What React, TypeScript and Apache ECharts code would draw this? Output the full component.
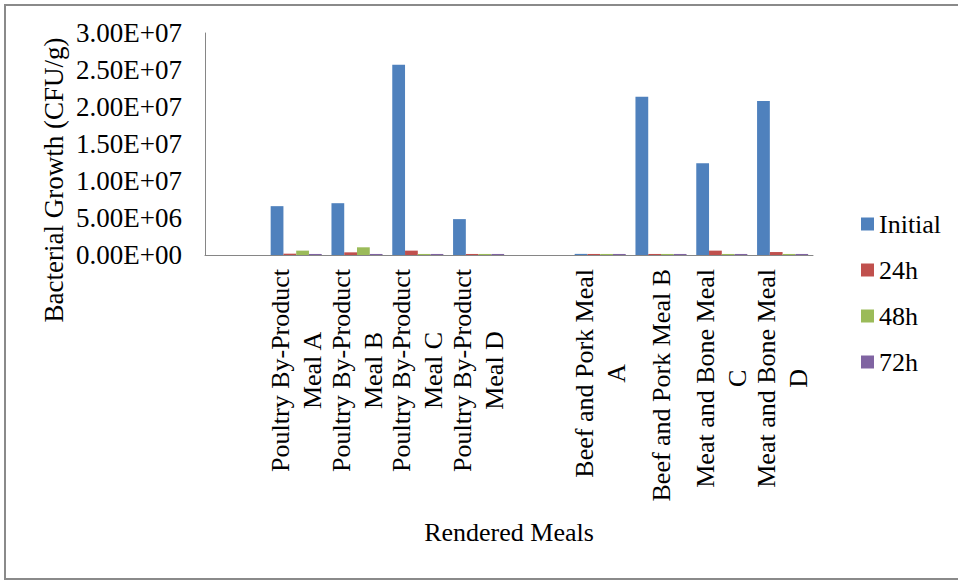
import React, { useEffect, useRef } from "react";
import * as echarts from "echarts";

// Meals on the category axis; blank entries leave the gaps between the two meal groups.
const categories: string[] = [
  "",
  "Poultry By-Product\nMeal A",
  "Poultry By-Product\nMeal B",
  "Poultry By-Product\nMeal C",
  "Poultry By-Product\nMeal D",
  "",
  "Beef and Pork Meal\nA",
  "Beef and Pork Meal B",
  "Meat and Bone Meal\nC",
  "Meat and Bone Meal\nD",
];

const seriesNames: string[] = ["Initial", "24h", "48h", "72h"];

// Bacterial counts (CFU/g) per meal at each sampling time.
const initialValues: (number | null)[] = [null, 6.6e6, 7.0e6, 2.57e7, 4.85e6, null, 1.5e5, 2.14e7, 1.24e7, 2.08e7];
const h24Values: (number | null)[] = [null, 1.8e5, 3.6e5, 5.9e5, 1.4e5, null, 1.4e5, 1.4e5, 5.9e5, 4.0e5];
const h48Values: (number | null)[] = [null, 5.9e5, 1.04e6, 1.4e5, 1.4e5, null, 1.4e5, 1.4e5, 1.4e5, 1.4e5];
const h72Values: (number | null)[] = [null, 1.4e5, 1.4e5, 1.4e5, 1.4e5, null, 1.4e5, 1.4e5, 1.4e5, 1.4e5];

const yMin = 0;
const yMax = 3.0e7;
const yStep = 5.0e6;

const colors = ["#4F81BD", "#C0504D", "#9BBB59", "#8064A2"];
const FONT = "Liberation Serif";

// Excel-style scientific notation: 2.50E+07
function sci(v: number): string {
  const [mant, exp] = v.toExponential(2).split("e");
  const sign = exp[0] === "-" ? "-" : "+";
  const digits = exp.replace(/^[+-]/, "").padStart(2, "0");
  return `${mant}E${sign}${digits}`;
}

export default function App() {
  const ref = useRef<HTMLDivElement>(null);

  useEffect(() => {
    if (!ref.current) return;
    const chart = echarts.init(ref.current, undefined, { renderer: "svg" });
    const values = [initialValues, h24Values, h48Values, h72Values];
    const serifText = { fontFamily: FONT, fontSize: 26, color: "#000" };

    chart.setOption({
      animation: false,
      backgroundColor: "#ffffff",
      color: colors,
      textStyle: { fontFamily: FONT },
      grid: { left: 205, right: 145, top: 33, bottom: 327, containLabel: false },
      legend: {
        orient: "vertical",
        left: 856,
        top: 206,
        itemWidth: 13,
        itemHeight: 13,
        itemGap: 20,
        icon: "rect",
        data: seriesNames,
        textStyle: { ...serifText, lineHeight: 26 },
      },
      xAxis: {
        type: "category",
        data: categories,
        name: "Rendered Meals",
        nameLocation: "middle",
        nameGap: 264,
        nameTextStyle: serifText,
        axisLine: { lineStyle: { color: "#868686", width: 1 } },
        axisTick: { show: false },
        axisLabel: {
          interval: 0,
          rotate: 90,
          margin: 14,
          hideOverlap: false,
          formatter: (v: string) =>
            v
              .split("\n")
              .map((l) => `{c|${l}}`)
              .join("\n"),
          rich: {
            c: { ...serifText, align: "center", lineHeight: 32 },
          },
        },
      },
      yAxis: {
        type: "value",
        min: yMin,
        max: yMax,
        interval: yStep,
        axisLine: { show: true, lineStyle: { color: "#868686", width: 1 } },
        axisTick: { show: false },
        splitLine: { show: false },
        axisLabel: {
          margin: 23,
          fontFamily: FONT,
          fontSize: 27,
          color: "#000",
          formatter: (v: number) => sci(v),
        },
      },
      graphic: [
        {
          type: "rect",
          shape: { x: 5, y: 5, width: 960, height: 574 },
          style: { fill: "none", stroke: "#8a8a8a", lineWidth: 2 },
          silent: true,
        },
        {
          type: "text",
          x: 54,
          y: 180,
          rotation: Math.PI / 2,
          style: {
            text: "Bacterial Growth (CFU/g)",
            fontFamily: FONT,
            fontSize: 27,
            fill: "#000",
            align: "center",
            verticalAlign: "middle",
          },
          silent: true,
        },
      ],
      series: seriesNames.map((name, i) => ({
        name,
        type: "bar",
        data: values[i],
        barGap: "0%",
        barCategoryGap: "16%",
        itemStyle: { color: colors[i] },
      })),
    });

    return () => chart.dispose();
  }, []);

  return (
    <div
      ref={ref}
      style={{ position: "fixed", left: 0, top: 0, width: 958, height: 582 }}
    />
  );
}
